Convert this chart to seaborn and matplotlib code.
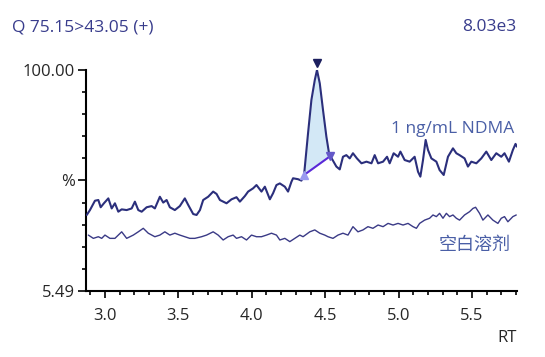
import numpy as np
import pandas as pd
import matplotlib
matplotlib.use('Agg')
import matplotlib.pyplot as plt
import seaborn as sns

# 1 ng/mL NDMA trace (RT, %)
sig_rt = [2.876, 2.898, 2.932, 2.955, 2.971, 2.993, 3.023, 3.046, 3.068, 3.091,
          3.114, 3.148, 3.182, 3.204, 3.227, 3.250, 3.284, 3.318, 3.340, 3.374,
          3.397, 3.420, 3.442, 3.476, 3.510, 3.544, 3.567, 3.601, 3.624, 3.647,
          3.669, 3.703, 3.737, 3.760, 3.783, 3.828, 3.862, 3.896, 3.919, 3.953,
          3.975, 4.009, 4.032, 4.066, 4.089, 4.123, 4.145, 4.168, 4.191, 4.225,
          4.247, 4.270, 4.281, 4.315, 4.338, 4.356, 4.383, 4.406, 4.429, 4.444,
          4.463, 4.485, 4.508, 4.526, 4.535, 4.576, 4.599, 4.621, 4.644, 4.667,
          4.689, 4.716, 4.747, 4.781, 4.815, 4.837, 4.860, 4.894, 4.921, 4.939,
          4.966, 4.996, 5.012, 5.041, 5.075, 5.109, 5.132, 5.148, 5.166, 5.184,
          5.200, 5.223, 5.257, 5.279, 5.307, 5.336, 5.370, 5.393, 5.415, 5.449,
          5.472, 5.495, 5.529, 5.563, 5.597, 5.631, 5.665, 5.699, 5.721, 5.751,
          5.778, 5.796, 5.806]
sig_val = [38.0, 40.1, 44.1, 44.4, 41.3, 43.0, 45.1, 40.8, 43.0, 39.4,
           40.4, 40.1, 40.8, 43.7, 40.1, 39.4, 41.3, 41.8, 40.8, 45.8,
           43.3, 44.4, 41.3, 40.1, 41.8, 45.1, 42.3, 38.4, 38.0, 40.1,
           44.4, 45.8, 48.0, 47.0, 44.4, 43.0, 44.7, 45.6, 43.7, 46.1,
           48.0, 49.4, 50.8, 48.0, 50.1, 44.7, 47.3, 50.8, 51.5, 50.1,
           48.0, 52.2, 53.7, 53.3, 52.7, 55.1, 72.9, 87.2, 95.7, 100.0,
           94.3, 82.9, 71.5, 64.4, 63.2, 58.7, 57.5, 62.9, 63.6, 62.2,
           64.4, 62.2, 60.1, 60.8, 60.1, 63.6, 60.1, 60.8, 62.9, 60.1,
           64.4, 62.9, 65.1, 61.5, 60.8, 62.9, 56.5, 54.4, 61.5, 70.1,
           65.8, 62.2, 60.8, 57.2, 55.1, 62.9, 66.5, 64.4, 63.6, 62.2,
           58.7, 60.8, 60.1, 62.2, 65.1, 61.5, 64.4, 62.9, 64.4, 60.8,
           65.8, 68.4, 67.2]

# blank solvent trace
blk_rt = [2.887, 2.921, 2.955, 2.978, 3.000, 3.034, 3.068, 3.114, 3.148, 3.193,
          3.227, 3.261, 3.295, 3.340, 3.374, 3.408, 3.442, 3.476, 3.510, 3.544,
          3.578, 3.612, 3.658, 3.692, 3.737, 3.771, 3.805, 3.839, 3.873, 3.896,
          3.930, 3.964, 3.998, 4.032, 4.066, 4.100, 4.134, 4.168, 4.191, 4.225,
          4.259, 4.293, 4.327, 4.349, 4.395, 4.429, 4.463, 4.497, 4.519, 4.553,
          4.587, 4.621, 4.655, 4.689, 4.723, 4.757, 4.791, 4.825, 4.860, 4.894,
          4.928, 4.962, 4.996, 5.030, 5.064, 5.098, 5.121, 5.143, 5.177, 5.211,
          5.234, 5.257, 5.279, 5.302, 5.325, 5.347, 5.370, 5.393, 5.415, 5.449,
          5.483, 5.506, 5.524, 5.551, 5.574, 5.608, 5.642, 5.676, 5.699, 5.721,
          5.744, 5.778, 5.801]
blk_val = [29.4, 28.0, 28.7, 28.0, 29.4, 28.0, 28.0, 30.8, 28.0, 29.4,
           30.8, 32.3, 30.2, 28.7, 29.4, 30.8, 29.4, 30.2, 29.4, 28.7,
           28.0, 28.0, 28.7, 29.4, 30.8, 29.4, 27.3, 28.7, 29.4, 28.0,
           28.7, 27.3, 29.4, 28.7, 28.7, 29.4, 30.2, 29.4, 27.3, 28.0,
           26.6, 28.0, 29.4, 28.7, 30.8, 31.6, 30.2, 29.4, 28.7, 28.0,
           29.4, 30.2, 29.4, 33.0, 30.8, 31.6, 33.0, 32.3, 33.7, 33.0,
           34.4, 33.7, 34.4, 33.7, 34.4, 33.0, 32.3, 34.4, 35.8, 36.6,
           38.0, 37.3, 38.7, 36.6, 38.7, 37.3, 38.0, 36.6, 35.8, 38.0,
           39.4, 40.8, 41.3, 38.7, 35.8, 38.0, 35.8, 34.4, 36.6, 37.3,
           35.1, 37.3, 38.0]

# integrated peak: start / apex / end
peak_start = (4.356, 55.1)
peak_apex = (4.444, 100.0)
peak_end = (4.535, 63.2)

y_min, y_max = 5.49, 100.0
x_min, x_max = 2.871, 5.806

sns.set_style("ticks")
plt.rcParams['font.family'] = ['Open Sans', 'Noto Sans CJK SC', 'DejaVu Sans']

fig = plt.figure(figsize=(5.45, 3.57), dpi=100)
ax = fig.add_axes([0.1578, 0.1849, 0.7908, 0.619])

sig = pd.DataFrame({"RT": sig_rt, "val": sig_val})
blk = pd.DataFrame({"RT": blk_rt, "val": blk_val})

# peak fill between trace and baseline
sig_rt_a = np.array(sig_rt)
sig_val_a = np.array(sig_val)
m = (sig_rt_a >= peak_start[0]) & (sig_rt_a <= peak_end[0])
base = np.interp(sig_rt_a[m], [peak_start[0], peak_end[0]], [peak_start[1], peak_end[1]])
ax.fill_between(sig_rt_a[m], base, sig_val_a[m], color="#d3e8f6", zorder=1, lw=0)

sns.lineplot(data=blk, x="RT", y="val", ax=ax, color="#3a3a86", lw=1.0, zorder=2)
sns.lineplot(data=sig, x="RT", y="val", ax=ax, color="#2b2f7c", lw=1.5, zorder=3)

ax.plot([peak_start[0], peak_end[0]], [peak_start[1], peak_end[1]],
        color="#5a28d8", lw=1.5, zorder=4)
ax.plot(*peak_start, marker="^", color="#9a9af0", ms=6, zorder=5)
ax.plot(*peak_end, marker="v", color="#6458c8", ms=6, zorder=5)
ax.plot(peak_apex[0], peak_apex[1] + 3.0, marker="v", color="#1c1f5e", ms=6,
        zorder=5, clip_on=False)

ax.set_xlim(x_min, x_max)
ax.set_ylim(y_min, y_max)

ax.set_xticks([3.0, 3.5, 4.0, 4.5, 5.0, 5.5])
ax.set_xticklabels(["3.0", "3.5", "4.0", "4.5", "5.0", "5.5"])
ax.set_xticks(np.arange(2.9, 5.85, 0.1), minor=True)
ax.set_yticks([y_min, (y_min + y_max) / 2, y_max])
ax.set_yticklabels(["5.49", "%", "100.00"])
ax.set_yticks(np.linspace(y_min, y_max, 11), minor=True)

ax.tick_params(which="major", length=6, width=1.4, labelsize=12, direction="out", pad=2)
ax.tick_params(which="minor", length=3, width=1.4, direction="out")
ax.tick_params(axis="x", which="major", length=5, pad=7)

ax.set_xlabel("")
ax.set_ylabel("")
sns.despine(ax=ax)
for s in ["left", "bottom"]:
    ax.spines[s].set_linewidth(1.5)
    ax.spines[s].set_color("black")

txt_col = "#4a5fa6"
ax.text(0.993, 0.735, "1 ng/mL NDMA", transform=ax.transAxes, ha="right",
        va="center", fontsize=12.5, color=txt_col)
ax.text(0.985, 0.21, "空白溶剂", transform=ax.transAxes, ha="right",
        va="center", fontsize=13, color=txt_col,
        family=['Noto Sans CJK SC', 'DejaVu Sans'])

fig.text(12 / 545, 1 - 27 / 357, "Q 75.15>43.05 (+)", ha="left", va="center",
         fontsize=12.5, color="#383c8c")
fig.text(516 / 545, 1 - 27 / 357, "8.03e3", ha="right", va="center",
         fontsize=12.5, color="#383c8c")
fig.text(517 / 545, 1 - 338 / 357, "RT", ha="right", va="center", fontsize=12)

fig.savefig("out.png", dpi=100, facecolor="white")
